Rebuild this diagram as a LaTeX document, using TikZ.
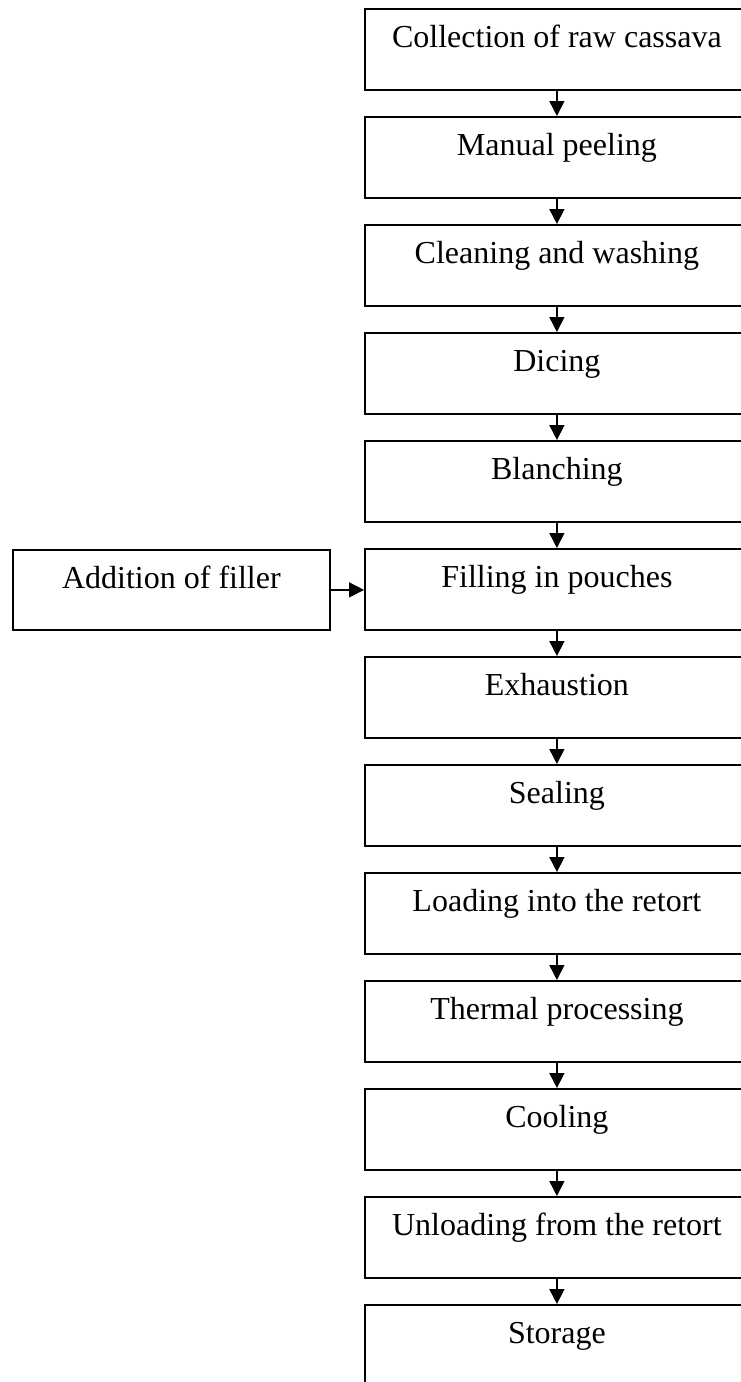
\documentclass[tikz,border=0pt]{standalone}
\usepackage{fontspec}
\setmainfont{Liberation Serif}
\usetikzlibrary{arrows.meta}
\begin{document}
\begin{tikzpicture}[x=1pt,y=-1pt,
  stepbox/.style={draw, line width=1.8pt, rectangle, inner sep=0pt, anchor=north west,
    minimum width=384pt, minimum height=81pt, text height=39pt, text depth=42pt,
    font=\fontsize{32}{38}\selectfont},
  sidebox/.style={stepbox, minimum width=317pt, minimum height=80pt, text depth=41pt},
  flow/.style={line width=1.6pt, -{Triangle[width=15pt,length=15pt]}}]
\useasboundingbox (0,0) rectangle (741,1382);
\clip (0,0) rectangle (741,1382);
% main process column
\foreach \i/\t in {0/Collection of raw cassava, 1/Manual peeling, 2/Cleaning and washing,
  3/Dicing, 4/Blanching, 5/Filling in pouches, 6/Exhaustion, 7/Sealing,
  8/Loading into the retort, 9/Thermal processing, 10/Cooling,
  11/Unloading from the retort, 12/Storage}
  \node[stepbox] (s\i) at (364, 8+108*\i) {\t};
% filler added beside the filling step
\node[sidebox] (add) at (12, 549) {Addition of filler};
% connectors
\foreach \i [evaluate=\i as \j using int(\i+1)] in {0,...,11}
  \draw[flow] (s\i.south) -- (s\j.north);
\draw[flow] (add.east) -- (add.east -| s5.west);
\end{tikzpicture}
\end{document}
